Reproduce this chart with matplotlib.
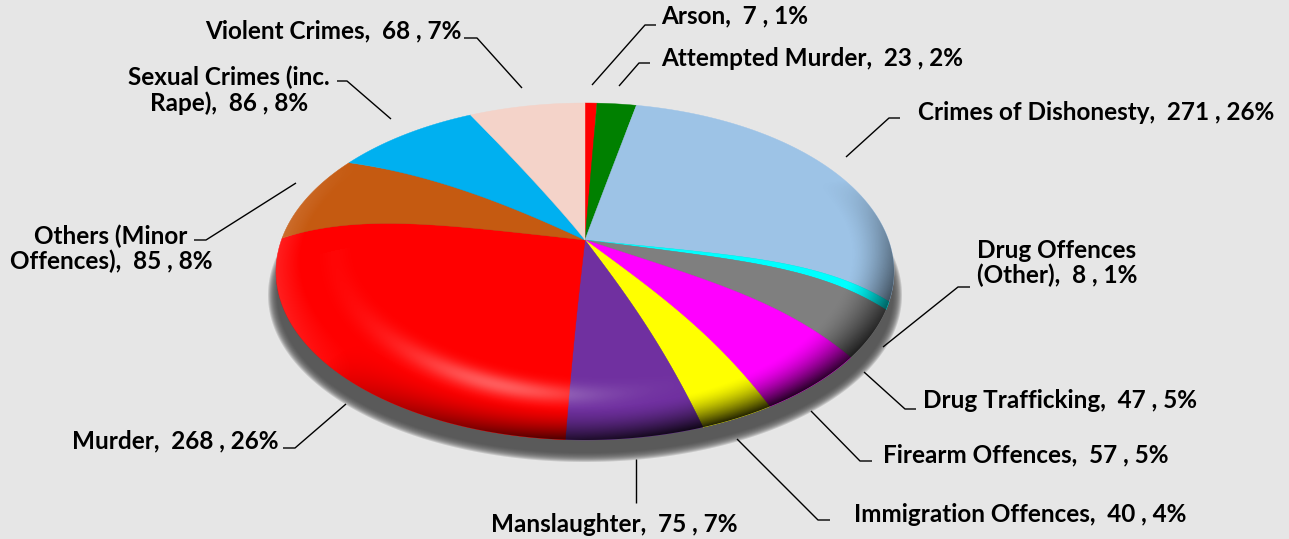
import numpy as np
import matplotlib
matplotlib.use("Agg")
import matplotlib.pyplot as plt
from matplotlib.patches import Polygon

plt.rcParams['font.family'] = ['Lato', 'DejaVu Sans']

categories = ['Arson', 'Attempted Murder', 'Crimes of Dishonesty', 'Drug Offences\n(Other)',
              'Drug Trafficking', 'Firearm Offences', 'Immigration Offences', 'Manslaughter',
              'Murder', 'Others (Minor\nOffences)', 'Sexual Crimes (inc.\nRape)', 'Violent Crimes']
values = [7, 23, 271, 8, 47, 57, 40, 75, 268, 85, 86, 68]
percents = [1, 2, 26, 1, 5, 5, 4, 7, 26, 8, 8, 7]
colors = ['#ff0000', '#008000', '#9dc3e6', '#00ffff', '#7f7f7f', '#ff00ff',
          '#ffff00', '#7030a0', '#ff0000', '#c55a11', '#00b0f0', '#f4d3c9']

# label position (pixels), alignment and leader line for each slice
label_pos = [(661, 16, 'left'), (661, 59, 'left'), (918, 113, 'left'), (1057, 263, 'center'),
             (923, 401, 'left'), (883, 455, 'left'), (854, 515, 'left'), (614, 524, 'center'),
             (278, 441, 'right'), (111, 249, 'center'), (229, 90, 'center'), (462, 31, 'right')]
leaders = [[(592, 85), (645, 25), (656, 25)],
           [(619, 86), (639, 63), (650, 63)],
           [(846, 157), (889, 118), (900, 118)],
           [(883, 347), (958, 287), (970, 287)],
           [(864, 372), (905, 409), (916, 409)],
           [(811, 411), (860, 461), (872, 461)],
           [(737, 439), (818, 520), (830, 520)],
           [(636, 459), (636, 503)],
           [(346, 404), (295, 448), (283, 448)],
           [(296, 183), (206, 240), (194, 240)],
           [(391, 119), (347, 81), (337, 81)],
           [(522, 88), (477, 38), (464, 38)]]

bg = '#e6e6e6'
cx, cy = 585, 240     # where the slices meet
rx, ry = 309, 168.5   # half size of the tilted disc
sag = 31.5            # how far the rim centre sits below the meeting point


def tilt_xy(theta):
    t = np.radians(theta)
    s = np.sin(t)
    Y = s + 0.08 * np.cos(t) ** 2 * np.clip((s + 0.85) / 0.35, 0, 1)
    X = np.sign(np.cos(t)) * np.sqrt(np.clip(1 - Y ** 2, 0, 1))
    return X, Y


def project(r, theta):
    X, Y = tilt_xy(theta)
    p = np.where(Y > 0, 5 - 4 * Y, 5 - 2.5 * Y ** 2)
    return cx + rx * r * X, cy - ry * r * Y + sag * r ** p


fig = plt.figure(figsize=(12.89, 5.39), dpi=100, facecolor=bg)
ax = fig.add_axes([0, 0, 1, 1])

# the pie gives the slice angles, then each slice is redrawn tilted
wedges, _ = ax.pie(values, colors=colors, startangle=90, counterclock=False)
slices = [(w.theta1, w.theta2, w.get_facecolor()) for w in wedges]
for w in wedges:
    w.remove()

# soft shadow under the disc
ang = np.linspace(0, 2 * np.pi, 400)
for grow in np.arange(5, -5, -1):
    ax.add_patch(Polygon(np.c_[585 + (312 + grow) * np.cos(ang), 295 + (162 + grow) * np.sin(ang)],
                         closed=True, fc='#4a4a4a', ec='none', alpha=0.2, zorder=1))

for theta1, theta2, col in slices:
    rr = np.linspace(0, 1, 80)
    arc = np.linspace(theta1, theta2, max(int(theta2 - theta1) * 3, 8))
    x1, y1 = project(rr, np.full(80, theta1))
    x2, y2 = project(np.ones(arc.size), arc)
    x3, y3 = project(rr[::-1], np.full(80, theta2))
    ax.add_patch(Polygon(np.c_[np.r_[x1, x2, x3], np.r_[y1, y2, y3]], closed=True,
                         fc=col, ec=col, lw=0.3, zorder=2))

# shading of the rounded edge, painted pixel by pixel from a dense polar grid
rg = np.linspace(0.65, 1, 1400)
tg = np.linspace(0, 360, 6000)
R, T = np.meshgrid(rg, tg, indexing='ij')
Xs, Ys = tilt_xy(T)
Px, Py = project(R, T)
d = np.clip(0.55 * Xs - 0.85 * Ys, 0, 1)
dark = np.clip((R - 0.86) / 0.14, 0, 1) ** 1.6 * d * 0.85
glow = np.exp(-((R - 0.81) / 0.045) ** 2) * np.exp(-((Xs + 0.35) / 0.4) ** 2) * (Ys < 0) * 0.36
left = np.clip((R - 0.92) / 0.08, 0, 1) * np.clip(-Xs - 0.75, 0, 1) * 0.5
dark_img = np.zeros((539, 1289, 4))
glow_img = np.ones((539, 1289, 4))
glow_img[..., 3] = 0
ix = np.clip(Px.astype(int), 0, 1288)
iy = np.clip(Py.astype(int), 0, 538)
dark_img[iy, ix, 3] = dark
glow_img[iy, ix, 3] = glow + left

rim_t = np.linspace(0, 360, 1441)
rim = Polygon(np.c_[project(np.ones(rim_t.size), rim_t)], closed=True, transform=ax.transData)
for img in (glow_img, dark_img):
    im = ax.imshow(img, extent=(0, 1289, 539, 0), aspect='auto', interpolation='bilinear', zorder=3)
    im.set_clip_path(rim)

ax.set_aspect('auto')
ax.set_xlim(0, 1289)
ax.set_ylim(539, 0)
ax.axis('off')

for line in leaders:
    pts = np.array(line)
    ax.plot(pts[:, 0], pts[:, 1], color='black', lw=1.0, zorder=4, solid_capstyle='butt')

for name, val, pct, (x, y, ha) in zip(categories, values, percents, label_pos):
    ax.text(x, y, f'{name},  {val} , {pct}%', ha=ha, va='center', multialignment='center',
            fontsize=17.5, fontweight='bold', color='black', linespacing=1.1, zorder=5)

fig.savefig('out.png', dpi=100, facecolor=bg)
